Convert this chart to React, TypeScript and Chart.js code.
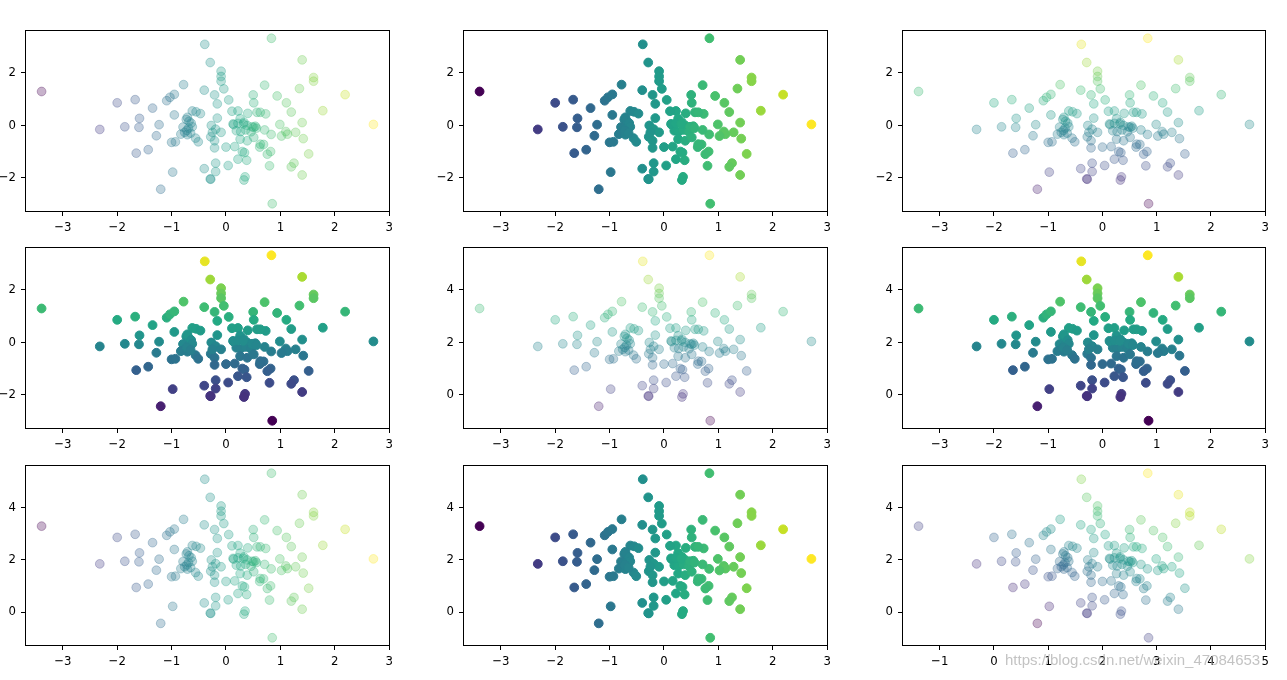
import React, { useEffect, useRef } from 'react';
import { Chart, registerables } from 'chart.js';

Chart.register(...registerables);

// Sample values
const xValues: number[] = [
  -3.39, -2.32, -2.0, -1.67, -1.86, -1.6, -1.59, -1.65, -1.43, -1.35, -1.23, -1.28, -1.2, -0.98,
  -1.09, -1.03, -0.95, -0.95, -1.0, -0.93, -0.78, -0.62, -0.55, -0.47, -0.73, -0.68, -0.79, -0.69,
  -0.76, -0.83, -0.71, -0.56, -0.51, -0.39, -0.29, -0.4, -0.4, -0.29,
  0.835, 1.4, 1.61, 1.61, 2.19, 1.35, 1.78, 2.71, 0.71, 0.94, 0.5, 0.51, 1.11, 1.2, 1.4, 1.28,
  1.42, 1.52, 1.4, 1.25, 1.2, 0.85, 0.8, 0.99, 1.1, 1.13, 1.02, 0.83, 0.71, 0.69, 0.62, 0.82,
  0.76, 0.73, 0.57, 0.4, 0.22, 0.11, 0.26, 0.33, 0.14, 0.39, 0.51, 0.54, 0.19, 0.27, 0.36, 0.46,
  0.26, 0.39, 0.0, 0.16, 0.3, 0.34, 0.22, 0.38, 0.04, 0.35, 0.33, -0.16, -0.27, -0.19, -0.09,
  -0.28, -0.21, -0.21, -0.19, -0.19, -0.28, -0.21, -0.16, -0.09, -0.09, -0.09, -0.04, 0.05,
  -0.71, -0.64, -0.62, -0.72, -0.65, 0.13, 0.22, 0.32, 0.48, 0.56, 0.51, 0.63, 0.63, -0.25,
];
const yValues: number[] = [
  1.28, -0.16, 0.85, 0.97, -0.06, -0.08, 0.26, -1.06, -0.93, 0.65, 0.02, -0.4, -2.43, -1.78,
  0.93, 1.06, 1.17, 0.39, -0.65, -0.63, 1.54, 0.54, 0.51, 0.44, 0.22, 0.15, -0.07, -0.11,
  -0.27, -0.34, -0.36, -0.49, -0.63, 3.07, 2.38, 1.33, -1.65, -2.04,
  3.3, 2.48, 1.81, 1.67, 1.16, 1.39, 0.55, 0.03, 1.52, 1.11, 1.15, 0.85, 0.85, 0.5, 0.1, -0.27,
  -0.51, -1.09, -1.89, -1.44, -1.58, -2.98, -1.54, 0.03, -0.24, -0.34, -0.41, -0.35, -0.18, -0.73, -0.83, -1.0,
  -1.1, 0.43, 0.49, 0.45, 0.54, 0.53, 0.25, 0.11, 0.02, -0.01, -0.08, -0.04, -0.21, -0.24, -0.18, -0.25,
  -0.53, -0.59, -0.83, -0.81, -1.0, -1.04, -1.29, -1.33, -1.53, -1.96, -2.08, 0.27, -0.01, -0.15, -0.27,
  -0.44, -0.59, -0.86, -1.44, -1.76, -2.05, 1.15, 0.81, 2.05, 1.85, 1.67, 1.38, 0.96,
  0.3, 0.08, -0.06, -0.2, -0.3, 0.05, 0.07, 0.05, -0.06, -0.11, -0.46, 0.49, -0.72, -0.27,
];

const xShifted = xValues.map((v) => v + 2);
const yShifted = yValues.map((v) => v + 2);
const xySum = xValues.map((v, i) => v + yValues[i]);

// Tick labels
const xTicksBase = [-3, -2, -1, 0, 1, 2, 3];
const xTicksShifted = [-1, 0, 1, 2, 3, 4, 5];
const yTicksBase = [-2, 0, 2];
const yTicksShifted = [0, 2, 4];

const watermark = 'https://blog.csdn.net/weixin_47084653';

const viridis = ['#440154', '#482475', '#414487', '#355f8d', '#2a788e', '#21918c', '#22a884', '#44bf70', '#7ad151', '#bddf26', '#fde725'];

function hexToRgb(h: string) {
  return [parseInt(h.slice(1, 3), 16), parseInt(h.slice(3, 5), 16), parseInt(h.slice(5, 7), 16)];
}

function viridisColor(t: number, alpha: number) {
  const tt = Math.max(0, Math.min(1, t)) * (viridis.length - 1);
  const i = Math.min(viridis.length - 2, Math.floor(tt));
  const f = tt - i;
  const a = hexToRgb(viridis[i]);
  const b = hexToRgb(viridis[i + 1]);
  const c = a.map((v, k) => Math.round(v + (b[k] - v) * f));
  return `rgba(${c[0]},${c[1]},${c[2]},${alpha})`;
}

function colorsFor(values: number[], alpha: number) {
  const mn = Math.min(...values);
  const mx = Math.max(...values);
  return values.map((v) => viridisColor((v - mn) / (mx - mn), alpha));
}

function paddedRange(values: number[]) {
  const mn = Math.min(...values);
  const mx = Math.max(...values);
  const m = (mx - mn) * 0.05;
  return [mn - m, mx + m];
}

function fmt(v: any) {
  const n = Number(v);
  return n < 0 ? '\u2212' + Math.abs(n) : String(n);
}

const framePlugin = {
  id: 'frame',
  afterDraw(chart: any) {
    const { ctx, chartArea } = chart;
    ctx.save();
    ctx.strokeStyle = '#000';
    ctx.lineWidth = 1;
    ctx.strokeRect(chartArea.left + 0.5, chartArea.top + 0.5, chartArea.right - chartArea.left - 1, chartArea.bottom - chartArea.top - 1);
    ctx.restore();
  },
};

const PAD_L = 30;
const PAD_T = 18;
const PAD_B = 30;
const PAD_R = 16;
const FONT = "'Liberation Sans Narrow', 'DejaVu Sans Condensed', 'Liberation Sans', Arial, sans-serif";

type PanelProps = {
  left: number;
  top: number;
  w: number;
  h: number;
  xs: number[];
  ys: number[];
  cs: number[];
  alpha: number;
  xTicks: number[];
  yTicks: number[];
};

function Panel({ left, top, w, h, xs, ys, cs, alpha, xTicks, yTicks }: PanelProps) {
  const ref = useRef<HTMLCanvasElement>(null);
  useEffect(() => {
    if (!ref.current) return;
    const [xmin, xmax] = paddedRange(xs);
    const [ymin, ymax] = paddedRange(ys);
    const cols = colorsFor(cs, alpha);
    const tickFont = { family: FONT, size: 13 };
    const chart = new Chart(ref.current, {
      type: 'scatter',
      data: {
        datasets: [
          {
            data: xs.map((x, i) => ({ x, y: ys[i] })),
            pointBackgroundColor: cols,
            pointBorderColor: cols,
            pointRadius: 4.4,
            pointBorderWidth: 1,
            pointHoverRadius: 4.4,
          },
        ],
      },
      options: {
        responsive: false,
        animation: false,
        events: [],
        layout: { padding: { top: PAD_T, right: PAD_R, left: 0, bottom: 0 } },
        plugins: { legend: { display: false }, tooltip: { enabled: false } },
        scales: {
          x: {
            type: 'linear',
            min: xmin,
            max: xmax,
            afterBuildTicks: (s: any) => {
              s.ticks = xTicks.map((v) => ({ value: v }));
            },
            afterFit: (s: any) => {
              s.height = PAD_B;
            },
            grid: { drawOnChartArea: false, color: '#000', tickColor: '#000', tickLength: 4, lineWidth: 1 },
            border: { display: false },
            ticks: { color: '#000', font: tickFont, padding: 4, maxRotation: 0, autoSkip: false, callback: fmt },
          },
          y: {
            type: 'linear',
            min: ymin,
            max: ymax,
            afterBuildTicks: (s: any) => {
              s.ticks = yTicks.map((v) => ({ value: v }));
            },
            afterFit: (s: any) => {
              s.width = PAD_L;
            },
            grid: { drawOnChartArea: false, color: '#000', tickColor: '#000', tickLength: 4, lineWidth: 1 },
            border: { display: false },
            ticks: { color: '#000', font: tickFont, padding: 5, autoSkip: false, callback: fmt },
          },
        },
      },
      plugins: [framePlugin],
    } as any);
    return () => chart.destroy();
  }, []);
  const cw = w + PAD_L + PAD_R;
  const ch = h + PAD_T + PAD_B;
  return (
    <canvas
      ref={ref}
      width={cw}
      height={ch}
      style={{ position: 'absolute', left: left - PAD_L, top: top - PAD_T, width: cw, height: ch }}
    />
  );
}

const colLefts = [25, 463, 902];
const rowTops = [30, 247, 465];
const panelW = 365;
const panelH = 182;

export default function App() {
  const panels = [
    { xs: xValues, ys: yValues, cs: xValues, alpha: 0.3, xTicks: xTicksBase, yTicks: yTicksBase },
    { xs: xValues, ys: yValues, cs: xValues, alpha: 1, xTicks: xTicksBase, yTicks: yTicksBase },
    { xs: xValues, ys: yValues, cs: yValues, alpha: 0.3, xTicks: xTicksBase, yTicks: yTicksBase },
    { xs: xValues, ys: yValues, cs: yValues, alpha: 1, xTicks: xTicksBase, yTicks: yTicksBase },
    { xs: xValues, ys: yShifted, cs: yValues, alpha: 0.3, xTicks: xTicksBase, yTicks: yTicksShifted },
    { xs: xValues, ys: yShifted, cs: yValues, alpha: 1, xTicks: xTicksBase, yTicks: yTicksShifted },
    { xs: xValues, ys: yShifted, cs: xValues, alpha: 0.3, xTicks: xTicksBase, yTicks: yTicksShifted },
    { xs: xValues, ys: yShifted, cs: xValues, alpha: 1, xTicks: xTicksBase, yTicks: yTicksShifted },
    { xs: xShifted, ys: yShifted, cs: xySum, alpha: 0.3, xTicks: xTicksShifted, yTicks: yTicksShifted },
  ];
  return (
    <div style={{ position: 'absolute', left: 0, top: 0, width: 1287, height: 680, background: '#fff', overflow: 'hidden' }}>
      {panels.map((p, i) => (
        <Panel
          key={i}
          left={colLefts[i % 3]}
          top={rowTops[Math.floor(i / 3)]}
          w={i % 3 === 2 ? panelW - 1 : panelW}
          h={Math.floor(i / 3) === 2 ? panelH - 1 : panelH}
          {...p}
        />
      ))}
      <div
        style={{
          position: 'absolute',
          left: 1005,
          top: 651,
          fontFamily: "'Liberation Sans', Arial, sans-serif",
          fontSize: 15,
          color: 'rgba(175,175,175,0.75)',
          whiteSpace: 'nowrap',
        }}
      >
        {watermark}
      </div>
    </div>
  );
}
